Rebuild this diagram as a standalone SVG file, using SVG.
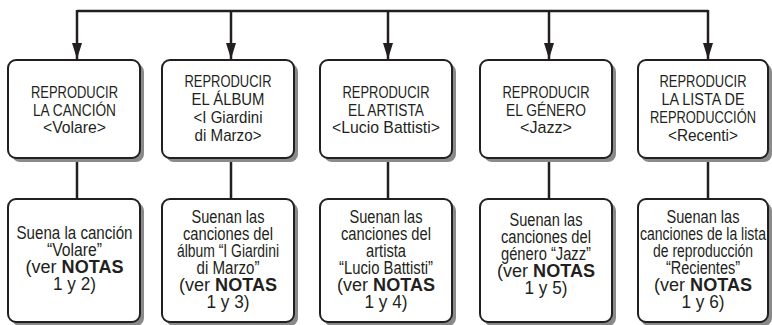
<svg xmlns="http://www.w3.org/2000/svg" width="772" height="325" viewBox="0 0 772 325">
<style>
.bg{fill:#ffffff}
.sh{fill:#8a8a8a}
.box{fill:#ffffff;stroke:#231f20;stroke-width:2}
.ln{fill:none;stroke:#231f20;stroke-width:2.5}
text{font-family:"Liberation Sans",Arial,sans-serif;fill:#231f20;text-anchor:middle}
.t{font-size:17px}
.b{font-size:17.5px}
.k{font-weight:bold}
</style>
<defs>
<marker id="ah" markerUnits="userSpaceOnUse" viewBox="0 0 16 10" refX="16" refY="5" markerWidth="16" markerHeight="10" orient="auto">
<path d="M0,0 L16,5 L0,10 z" fill="#231f20"/>
</marker>
</defs>
<rect class="bg" x="0" y="0" width="772" height="325"/>
<g id="connectors">
<path class="ln" d="M77,11 H708"/>
<path class="ln" d="M77,10 V59" marker-end="url(#ah)"/>
<path class="ln" d="M231,11 V59" marker-end="url(#ah)"/>
<path class="ln" d="M388,11 V59" marker-end="url(#ah)"/>
<path class="ln" d="M549,11 V59" marker-end="url(#ah)"/>
<path class="ln" d="M708,10 V59" marker-end="url(#ah)"/>
<path class="ln" d="M77,158 V199"/>
<path class="ln" d="M231,158 V199"/>
<path class="ln" d="M388,158 V199"/>
<path class="ln" d="M549,158 V199"/>
<path class="ln" d="M708,158 V199"/>
</g>
<g id="play-song">
<rect class="sh" x="12" y="64" width="132" height="98" rx="8"/>
<rect class="box" x="8" y="60" width="132" height="98" rx="8"/>
<text class="t" x="74.5" y="98" textLength="87" lengthAdjust="spacingAndGlyphs">REPRODUCIR</text>
<text class="t" x="74.5" y="115.5" textLength="83" lengthAdjust="spacingAndGlyphs">LA CANCIÓN</text>
<text class="t" x="74.5" y="133" textLength="63" lengthAdjust="spacingAndGlyphs">&lt;Volare&gt;</text>
</g>
<g id="play-album">
<rect class="sh" x="166" y="64" width="132" height="98" rx="8"/>
<rect class="box" x="162" y="60" width="132" height="98" rx="8"/>
<text class="t" x="228" y="86.5" textLength="87" lengthAdjust="spacingAndGlyphs">REPRODUCIR</text>
<text class="t" x="228" y="104.5" textLength="73" lengthAdjust="spacingAndGlyphs">EL ÁLBUM</text>
<text class="t" x="228" y="122.5" textLength="69" lengthAdjust="spacingAndGlyphs">&lt;I Giardini</text>
<text class="t" x="228" y="140.5" textLength="67" lengthAdjust="spacingAndGlyphs">di Marzo&gt;</text>
</g>
<g id="play-artist">
<rect class="sh" x="324" y="64" width="132" height="98" rx="8"/>
<rect class="box" x="320" y="60" width="132" height="98" rx="8"/>
<text class="t" x="386" y="98" textLength="87" lengthAdjust="spacingAndGlyphs">REPRODUCIR</text>
<text class="t" x="386" y="115.5" textLength="76" lengthAdjust="spacingAndGlyphs">EL ARTISTA</text>
<text class="t" x="386" y="133" textLength="108" lengthAdjust="spacingAndGlyphs">&lt;Lucio Battisti&gt;</text>
</g>
<g id="play-genre">
<rect class="sh" x="484" y="64" width="132" height="98" rx="8"/>
<rect class="box" x="480" y="60" width="132" height="98" rx="8"/>
<text class="t" x="546" y="98" textLength="87" lengthAdjust="spacingAndGlyphs">REPRODUCIR</text>
<text class="t" x="546" y="115.5" textLength="80" lengthAdjust="spacingAndGlyphs">EL GÉNERO</text>
<text class="t" x="546" y="133" textLength="52" lengthAdjust="spacingAndGlyphs">&lt;Jazz&gt;</text>
</g>
<g id="play-playlist">
<rect class="sh" x="641" y="64" width="131" height="98" rx="8"/>
<rect class="box" x="638" y="60" width="130" height="98" rx="8"/>
<text class="t" x="703" y="86.5" textLength="87" lengthAdjust="spacingAndGlyphs">REPRODUCIR</text>
<text class="t" x="703" y="104.5" textLength="83" lengthAdjust="spacingAndGlyphs">LA LISTA DE</text>
<text class="t" x="703" y="122.5" textLength="106" lengthAdjust="spacingAndGlyphs">REPRODUCCIÓN</text>
<text class="t" x="703" y="140.5" textLength="70" lengthAdjust="spacingAndGlyphs">&lt;Recenti&gt;</text>
</g>
<g id="song-result">
<rect class="sh" x="12" y="203" width="132" height="123" rx="8"/>
<rect class="box" x="8" y="199" width="132" height="123" rx="8"/>
<text class="b" x="74.5" y="239" textLength="116" lengthAdjust="spacingAndGlyphs">Suena la canción</text>
<text class="b" x="74.5" y="256" textLength="55" lengthAdjust="spacingAndGlyphs">“Volare”</text>
<text class="b" x="74.5" y="273" textLength="98" lengthAdjust="spacingAndGlyphs">(ver <tspan class="k">NOTAS</tspan></text>
<text class="b" x="74.5" y="290" textLength="43" lengthAdjust="spacingAndGlyphs">1 y 2)</text>
</g>
<g id="album-result">
<rect class="sh" x="166" y="203" width="132" height="123" rx="8"/>
<rect class="box" x="162" y="199" width="132" height="123" rx="8"/>
<text class="b" x="228" y="223" textLength="73" lengthAdjust="spacingAndGlyphs">Suenan las</text>
<text class="b" x="228" y="240" textLength="90" lengthAdjust="spacingAndGlyphs">canciones del</text>
<text class="b" x="228" y="257" textLength="102" lengthAdjust="spacingAndGlyphs">álbum “I Giardini</text>
<text class="b" x="228" y="274" textLength="63" lengthAdjust="spacingAndGlyphs">di Marzo”</text>
<text class="b" x="228" y="291" textLength="98" lengthAdjust="spacingAndGlyphs">(ver <tspan class="k">NOTAS</tspan></text>
<text class="b" x="228" y="308" textLength="43" lengthAdjust="spacingAndGlyphs">1 y 3)</text>
</g>
<g id="artist-result">
<rect class="sh" x="324" y="203" width="132" height="123" rx="8"/>
<rect class="box" x="320" y="199" width="132" height="123" rx="8"/>
<text class="b" x="386" y="223" textLength="73" lengthAdjust="spacingAndGlyphs">Suenan las</text>
<text class="b" x="386" y="240" textLength="90" lengthAdjust="spacingAndGlyphs">canciones del</text>
<text class="b" x="386" y="257" textLength="40" lengthAdjust="spacingAndGlyphs">artista</text>
<text class="b" x="386" y="274" textLength="94" lengthAdjust="spacingAndGlyphs">“Lucio Battisti”</text>
<text class="b" x="386" y="291" textLength="98" lengthAdjust="spacingAndGlyphs">(ver <tspan class="k">NOTAS</tspan></text>
<text class="b" x="386" y="308" textLength="43" lengthAdjust="spacingAndGlyphs">1 y 4)</text>
</g>
<g id="genre-result">
<rect class="sh" x="484" y="203" width="132" height="123" rx="8"/>
<rect class="box" x="480" y="199" width="132" height="123" rx="8"/>
<text class="b" x="546" y="226" textLength="73" lengthAdjust="spacingAndGlyphs">Suenan las</text>
<text class="b" x="546" y="243" textLength="90" lengthAdjust="spacingAndGlyphs">canciones del</text>
<text class="b" x="546" y="260" textLength="90" lengthAdjust="spacingAndGlyphs">género “Jazz”</text>
<text class="b" x="546" y="277" textLength="98" lengthAdjust="spacingAndGlyphs">(ver <tspan class="k">NOTAS</tspan></text>
<text class="b" x="546" y="294" textLength="43" lengthAdjust="spacingAndGlyphs">1 y 5)</text>
</g>
<g id="playlist-result">
<rect class="sh" x="641" y="203" width="131" height="123" rx="8"/>
<rect class="box" x="638" y="199" width="130" height="123" rx="8"/>
<text class="b" x="703" y="223" textLength="73" lengthAdjust="spacingAndGlyphs">Suenan las</text>
<text class="b" x="703" y="240" textLength="126" lengthAdjust="spacingAndGlyphs">canciones de la lista</text>
<text class="b" x="703" y="257" textLength="100" lengthAdjust="spacingAndGlyphs">de reproducción</text>
<text class="b" x="703" y="274" textLength="74" lengthAdjust="spacingAndGlyphs">“Recientes”</text>
<text class="b" x="703" y="291" textLength="98" lengthAdjust="spacingAndGlyphs">(ver <tspan class="k">NOTAS</tspan></text>
<text class="b" x="703" y="308" textLength="43" lengthAdjust="spacingAndGlyphs">1 y 6)</text>
</g>
</svg>
